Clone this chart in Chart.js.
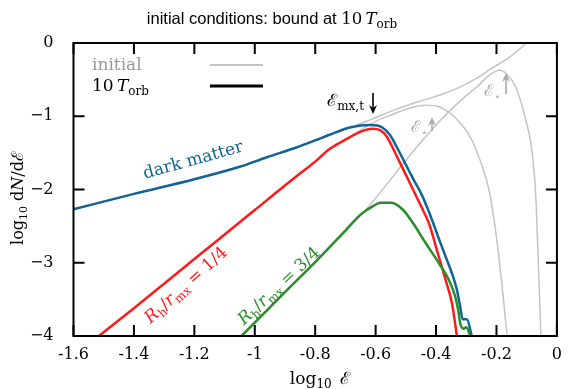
<!DOCTYPE html>
<html>
<head>
<meta charset="utf-8">
<script src="https://cdn.jsdelivr.net/npm/chart.js@4.4.1/dist/chart.umd.min.js"></script>
<style>
  body { margin: 0; background: #fff; }
  #wrap { width: 571px; height: 389px; }
</style>
</head>
<body>
<div id="wrap"><canvas id="chart"></canvas></div>
<script>
// values (log10 E , log10 dN/dE)
const dmX = [-1.6, -1.4, -1.2, -1.05, -0.96, -0.865, -0.8, -0.757, -0.682, -0.617, -0.579, -0.552, -0.53, -0.51, -0.49, -0.47, -0.45, -0.43, -0.412, -0.39, -0.368, -0.347, -0.331, -0.32, -0.312, -0.298, -0.282];
const dmY = [-2.27, -2.06, -1.86, -1.69, -1.56, -1.43, -1.33, -1.26, -1.15, -1.12, -1.15, -1.26, -1.42, -1.58, -1.74, -1.90, -2.05, -2.24, -2.43, -2.68, -2.92, -3.15, -3.37, -3.60, -3.77, -3.77, -4.0];

const quarterX = [-1.516, -1.4, -1.2, -1.0, -0.865, -0.8, -0.757, -0.7, -0.649, -0.611, -0.585, -0.563, -0.54, -0.52, -0.5, -0.48, -0.46, -0.44, -0.422, -0.395, -0.368, -0.347, -0.331];
const quarterY = [-4.0, -3.62, -2.95, -2.28, -1.83, -1.62, -1.46, -1.32, -1.21, -1.17, -1.19, -1.28, -1.46, -1.63, -1.80, -1.97, -2.14, -2.31, -2.48, -2.86, -3.24, -3.56, -4.0];

const threeQX = [-1.044, -0.9, -0.8, -0.7, -0.649, -0.61, -0.584, -0.547, -0.509, -0.476, -0.433, -0.39, -0.357, -0.336, -0.325, -0.32, -0.309, -0.3, -0.287];
const threeQY = [-4.0, -3.4, -2.99, -2.56, -2.34, -2.23, -2.18, -2.18, -2.28, -2.46, -2.74, -3.01, -3.24, -3.47, -3.69, -3.83, -3.90, -3.88, -4.0];

// initial conditions (grey)
const dmInitX = [-1.6, -1.4, -1.2, -1.05, -0.96, -0.865, -0.8, -0.757, -0.682, -0.655, -0.595, -0.541, -0.487, -0.433, -0.38, -0.325, -0.27, -0.217, -0.152, -0.1];
const dmInitY = [-2.27, -2.06, -1.86, -1.69, -1.56, -1.43, -1.33, -1.26, -1.15, -1.11, -1.01, -0.92, -0.84, -0.77, -0.70, -0.61, -0.49, -0.35, -0.18, 0.0];

const quarterInitX = [-1.516, -1.4, -1.2, -1.0, -0.865, -0.8, -0.757, -0.7, -0.65, -0.6, -0.541, -0.49, -0.433, -0.39, -0.347, -0.325, -0.293, -0.271, -0.25, -0.225, -0.205, -0.19, -0.177, -0.165];
const quarterInitY = [-4.0, -3.62, -2.95, -2.28, -1.83, -1.62, -1.46, -1.32, -1.19, -1.07, -0.97, -0.89, -0.85, -0.87, -0.98, -1.07, -1.24, -1.42, -1.65, -2.0, -2.5, -3.0, -3.5, -4.0];

const threeQInitX = [-1.044, -0.9, -0.8, -0.7, -0.649, -0.6, -0.55, -0.5, -0.439, -0.38, -0.32, -0.26, -0.23, -0.205, -0.19, -0.165, -0.14, -0.12, -0.1, -0.088, -0.071, -0.061, -0.053];
const threeQInitY = [-4.0, -3.4, -2.99, -2.56, -2.35, -2.12, -1.86, -1.60, -1.30, -1.03, -0.79, -0.58, -0.46, -0.39, -0.37, -0.43, -0.57, -0.79, -1.1, -1.33, -2.01, -3.06, -4.0];

const xTicks = [-1.6, -1.4, -1.2, -1, -0.8, -0.6, -0.4, -0.2, 0];
const yTicks = [-4, -3, -2, -1, 0];

const BLUE = '#106496';
const RED = '#ff1a1a';
const GREEN = '#2a8c2a';
const GREY = '#c4c4c4';
const SERIF = '"DejaVu Serif", "Liberation Serif", serif';
const SANS = '"Liberation Sans", "DejaVu Sans", sans-serif';

function pts(xs, ys) {
  return xs.map((x, i) => ({ x: x, y: ys[i] }));
}

function line(xs, ys, color, width) {
  return {
    data: pts(xs, ys),
    borderColor: color,
    borderWidth: width,
    pointRadius: 0,
    fill: false,
    cubicInterpolationMode: 'monotone'
  };
}

// draws a run of pieces: [text, style] with style rm / it / sub / sans
function mathText(ctx, parts, x, y, size, align) {
  const fontFor = p => {
    if (p[1] === 'it') return 'italic ' + size + 'px ' + SERIF;
    if (p[1] === 'sub') return Math.round(size * 0.7) + 'px ' + SERIF;
    if (p[1] === 'sans') return size + 'px ' + SANS;
    return size + 'px ' + SERIF;
  };
  let w = 0;
  parts.forEach(p => { ctx.font = fontFor(p); w += ctx.measureText(p[0]).width; });
  let cx = align === 'center' ? x - w / 2 : align === 'right' ? x - w : x;
  ctx.textAlign = 'left';
  ctx.textBaseline = 'alphabetic';
  parts.forEach(p => {
    ctx.font = fontFor(p);
    ctx.fillText(p[0], cx, p[1] === 'sub' ? y + size * 0.22 : y);
    cx += ctx.measureText(p[0]).width;
  });
}

function rotated(ctx, parts, cx, cy, deg, size, color) {
  ctx.save();
  ctx.translate(cx, cy);
  ctx.rotate(deg * Math.PI / 180);
  ctx.fillStyle = color;
  mathText(ctx, parts, 0, size * 0.3, size, 'center');
  ctx.restore();
}

function arrow(ctx, x, y0, y1, color, w) {
  // from y0 to y1, head at y1
  const dir = y1 > y0 ? 1 : -1;
  ctx.strokeStyle = color;
  ctx.fillStyle = color;
  ctx.lineWidth = w;
  ctx.beginPath();
  ctx.moveTo(x, y0);
  ctx.lineTo(x, y1 - dir * 5);
  ctx.stroke();
  ctx.beginPath();
  ctx.moveTo(x, y1);
  ctx.lineTo(x - 4, y1 - dir * 9);
  ctx.lineTo(x, y1 - dir * 6);
  ctx.lineTo(x + 4, y1 - dir * 9);
  ctx.closePath();
  ctx.fill();
}

const frame = {
  id: 'frame',
  afterDraw(chart) {
    const ctx = chart.ctx;
    const a = chart.chartArea;
    const sx = chart.scales.x, sy = chart.scales.y;
    ctx.save();

    // box and inward ticks
    ctx.strokeStyle = '#000';
    ctx.lineWidth = 2;
    ctx.strokeRect(a.left, a.top, a.right - a.left, a.bottom - a.top);
    ctx.beginPath();
    xTicks.forEach(v => {
      const px = sx.getPixelForValue(v);
      ctx.moveTo(px, a.bottom); ctx.lineTo(px, a.bottom - 11);
      ctx.moveTo(px, a.top); ctx.lineTo(px, a.top + 11);
    });
    yTicks.forEach(v => {
      const py = sy.getPixelForValue(v);
      ctx.moveTo(a.left, py); ctx.lineTo(a.left + 11, py);
      ctx.moveTo(a.right, py); ctx.lineTo(a.right - 11, py);
    });
    ctx.stroke();

    // title
    ctx.fillStyle = '#000';
    mathText(ctx, [['initial conditions: bound at ', 'sans'], ['10\u2009', 'rm'], ['T', 'it'], ['orb', 'sub']], 272, 24, 16.5, 'center');

    // axis titles
    mathText(ctx, [['log', 'rm'], ['10', 'sub'], ['\u2002', 'rm'], ['\u2130', 'rm']], 320, 384, 17, 'center');
    ctx.save();
    ctx.translate(23, 198);
    ctx.rotate(-Math.PI / 2);
    mathText(ctx, [['log', 'rm'], ['10', 'sub'], [' d', 'rm'], ['N', 'it'], ['/d', 'rm'], ['\u2130', 'rm']], 0, 0, 16, 'center');
    ctx.restore();

    // legend
    ctx.fillStyle = '#999';
    mathText(ctx, [['initial', 'rm']], 92, 70, 17, 'left');
    ctx.fillStyle = '#000';
    mathText(ctx, [['10\u2009', 'rm'], ['T', 'it'], ['orb', 'sub']], 92, 91, 17, 'left');
    ctx.lineWidth = 2;
    ctx.strokeStyle = GREY;
    ctx.beginPath(); ctx.moveTo(210, 65); ctx.lineTo(263, 65); ctx.stroke();
    ctx.lineWidth = 3;
    ctx.strokeStyle = '#000';
    ctx.beginPath(); ctx.moveTo(210, 86); ctx.lineTo(263, 86); ctx.stroke();

    // curve labels
    rotated(ctx, [['dark matter', 'rm']], 193, 160, -15.5, 17, BLUE);
    rotated(ctx, [['R', 'it'], ['h', 'sub'], ['/', 'rm'], ['r', 'it'], ['mx', 'sub'], [' = 1/4', 'rm']], 186, 285, -42, 17, RED);
    rotated(ctx, [['R', 'it'], ['h', 'sub'], ['/', 'rm'], ['r', 'it'], ['mx', 'sub'], [' = 3/4', 'rm']], 279, 286, -43, 17, GREEN);

    // markers
    ctx.fillStyle = '#000';
    mathText(ctx, [['\u2130', 'rm'], ['mx,t', 'sub']], 364, 106, 17, 'right');
    arrow(ctx, 373, 93, 114, '#000', 1.6);

    ctx.fillStyle = '#aaa';
    mathText(ctx, [['\u2130', 'rm'], ['\u22c6', 'sub']], 428, 132, 16, 'right');
    arrow(ctx, 432, 131, 117, '#aaa', 1.6);
    ctx.fillStyle = '#aaa';
    mathText(ctx, [['\u2130', 'rm'], ['\u22c6', 'sub']], 501, 96, 16, 'right');
    arrow(ctx, 506, 94, 73, '#aaa', 1.6);

    ctx.restore();
  }
};

new Chart('chart', {
  type: 'line',
  data: {
    datasets: [
      line(threeQX, threeQY, GREEN, 2.5),
      line(quarterX, quarterY, RED, 2.5),
      line(dmX, dmY, BLUE, 2.5),
      line(dmInitX, dmInitY, GREY, 1.5),
      line(quarterInitX, quarterInitY, GREY, 1.5),
      line(threeQInitX, threeQInitY, GREY, 1.5)
    ]
  },
  options: {
    responsive: true,
    maintainAspectRatio: false,
    animation: false,
    devicePixelRatio: 1,
    layout: { padding: { top: 43, right: 4, left: 0, bottom: 0 } },
    plugins: { legend: { display: false }, tooltip: { enabled: false } },
    scales: {
      x: {
        type: 'linear',
        min: -1.6,
        max: 0,
        afterFit: s => { s.height = 53; },
        afterBuildTicks: s => { s.ticks = xTicks.map(v => ({ value: v })); },
        grid: { display: false, drawTicks: false },
        border: { display: false },
        ticks: {
          padding: 9,
          color: '#000',
          font: { family: SERIF, size: 16 },
          callback: v => String(Math.round(v * 10) / 10)
        }
      },
      y: {
        type: 'linear',
        min: -4,
        max: 0,
        afterFit: s => { s.width = 73.5; },
        afterBuildTicks: s => { s.ticks = yTicks.map(v => ({ value: v })); },
        grid: { display: false, drawTicks: false },
        border: { display: false },
        ticks: {
          padding: 20,
          color: '#000',
          font: { family: SERIF, size: 16 },
          callback: v => v === 0 ? '0' : '\u2212' + Math.abs(v)
        }
      }
    }
  },
  plugins: [frame]
});
</script>
</body>
</html>
